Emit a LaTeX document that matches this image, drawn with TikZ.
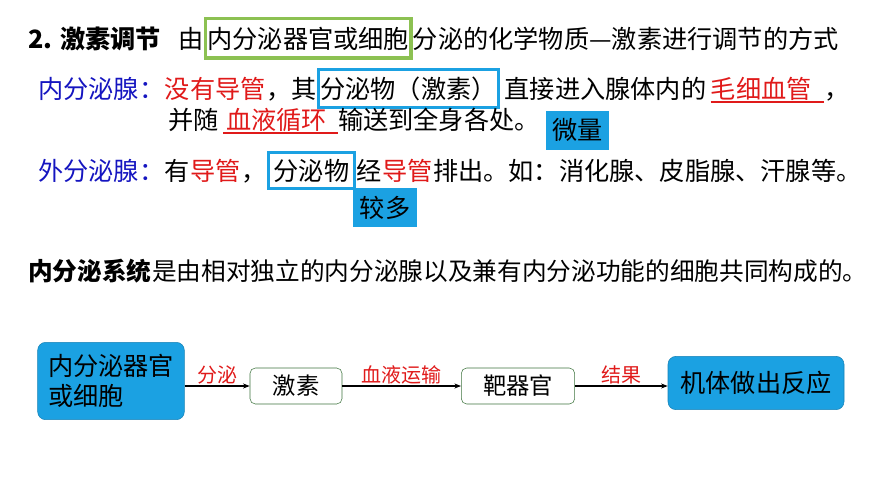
\documentclass[tikz,border=0pt]{standalone}
\usepackage{fontspec}
\setmainfont{Noto Sans CJK SC}
\usetikzlibrary{arrows.meta}
\definecolor{tblue}{HTML}{1515C0}
\definecolor{tred}{HTML}{E01A1A}
\definecolor{cy}{HTML}{1BA1E2}
\definecolor{gr}{HTML}{8CC152}
\begin{document}
\begin{tikzpicture}[x=0.75pt,y=-0.75pt,
  t/.style={inner sep=0pt,anchor=base west,font=\fontsize{18.9}{22}\selectfont},
  bx/.style={t,draw=cy,line width=2.2pt,inner xsep=1.5pt,inner ysep=5pt},
  gbx/.style={t,draw=gr,line width=2.5pt,inner xsep=1.5pt,inner ysep=6pt},
  fbx/.style={t,fill=cy,inner xsep=5pt,inner ysep=6pt},
  ul/.style={tred,line width=0.8pt},
  rb/.style={draw=cy!80!black,fill=cy,rounded corners=6pt,font=\fontsize{18.9}{23}\selectfont,align=left},
  wb/.style={draw=gray!70!green!70!black,fill=white,rounded corners=4pt,font=\fontsize{17.5}{21}\selectfont,minimum height=27pt},
  ar/.style={-{Stealth[length=5pt]},line width=0.9pt},
  lb/.style={font=\fontsize{15}{16}\selectfont,text=tred,inner sep=1pt,anchor=south}]
\useasboundingbox (0,0) rectangle (870,489);
% line 1
\node[t,font=\bfseries\fontsize{18.9}{22}\selectfont] (a1) at (28,48) {2. 激素调节};
\node[t] (a2) at (178,48) {由};
\node[gbx] (a3) at (a2.base east) {内分泌器官或细胞};
\node[t] (a4) at (a3.base east) {分泌的化学物质—激素进行调节的方式};
% line 2
\node[t,text=tblue] (b1) at (38,98) {内分泌腺：};
\node[t,text=tred] (b2) at (b1.base east) {没有导管};
\node[t] (b3) at (b2.base east) {，其};
\node[bx] (b4) at (b3.base east) {分泌物（激素）};
\node[t] (b5) at (b4.base east) {\,直接进入腺体内的\,};
\node[t,text=tred] (b6) at (b5.base east) {毛细血管};
\node[t] (b7) at ([xshift=9pt]b6.base east) {，};
\draw[ul] ([yshift=-3pt]b6.base west) -- ([yshift=-3pt,xshift=9pt]b6.base east);
% line 3
\node[t] (c1) at (168,129) {并随\,};
\node[t,text=tred] (c2) at ([xshift=2pt]c1.base east) {血液循环};
\node[t] (c3) at ([xshift=8pt]c2.base east) {输送到全身各处。};
\draw[ul] ([yshift=-3pt]c1.base east) -- ([yshift=-3pt,xshift=8pt]c2.base east);
\node[fbx] (c4) at ([xshift=4pt,yshift=-8pt]c3.base east) {微量};
% line 4
\node[t,text=tblue] (d1) at (38,180) {外分泌腺：};
\node[t] (d2) at (d1.base east) {有};
\node[t,text=tred] (d3) at (d2.base east) {导管};
\node[t] (d4) at (d3.base east) {，};
\node[bx,inner xsep=4pt] (d5) at (d4.base east) {分泌物};
\node[t] (d6) at (d5.base east) {经};
\node[t,text=tred] (d7) at (d6.base east) {导管};
\node[t] (d8) at (d7.base east) {排出。如：消化腺、皮脂腺、汗腺等。};
\node[fbx] (d9) at (353,217) {较多};
% line 5
\node[t,font=\bfseries\fontsize{18.5}{22}\selectfont] (e1) at (28,280) {内分泌系统};
\node[t,font=\fontsize{18.5}{22}\selectfont] (e2) at (e1.base east) {是由相对独立的内分泌腺以及兼有内分泌功能的细胞共同构成的。};
% flow
\node[rb,minimum width=110pt,minimum height=58pt] (f1) at (111,381) {内分泌器官\\或细胞};
\node[wb,minimum width=69pt] (f2) at (296,386) {激素};
\node[wb,minimum width=85pt] (f3) at (518,386) {靶器官};
\node[rb,minimum width=132pt,minimum height=40pt] (f4) at (756,383) {机体做出反应};
\draw[ar] (f1.east|-f2) -- node[lb]{分泌} (f2.west);
\draw[ar] (f2.east) -- node[lb]{血液运输} (f3.west);
\draw[ar] (f3.east) -- node[lb]{结果} (f4.west|-f3);
\end{tikzpicture}
\end{document}
